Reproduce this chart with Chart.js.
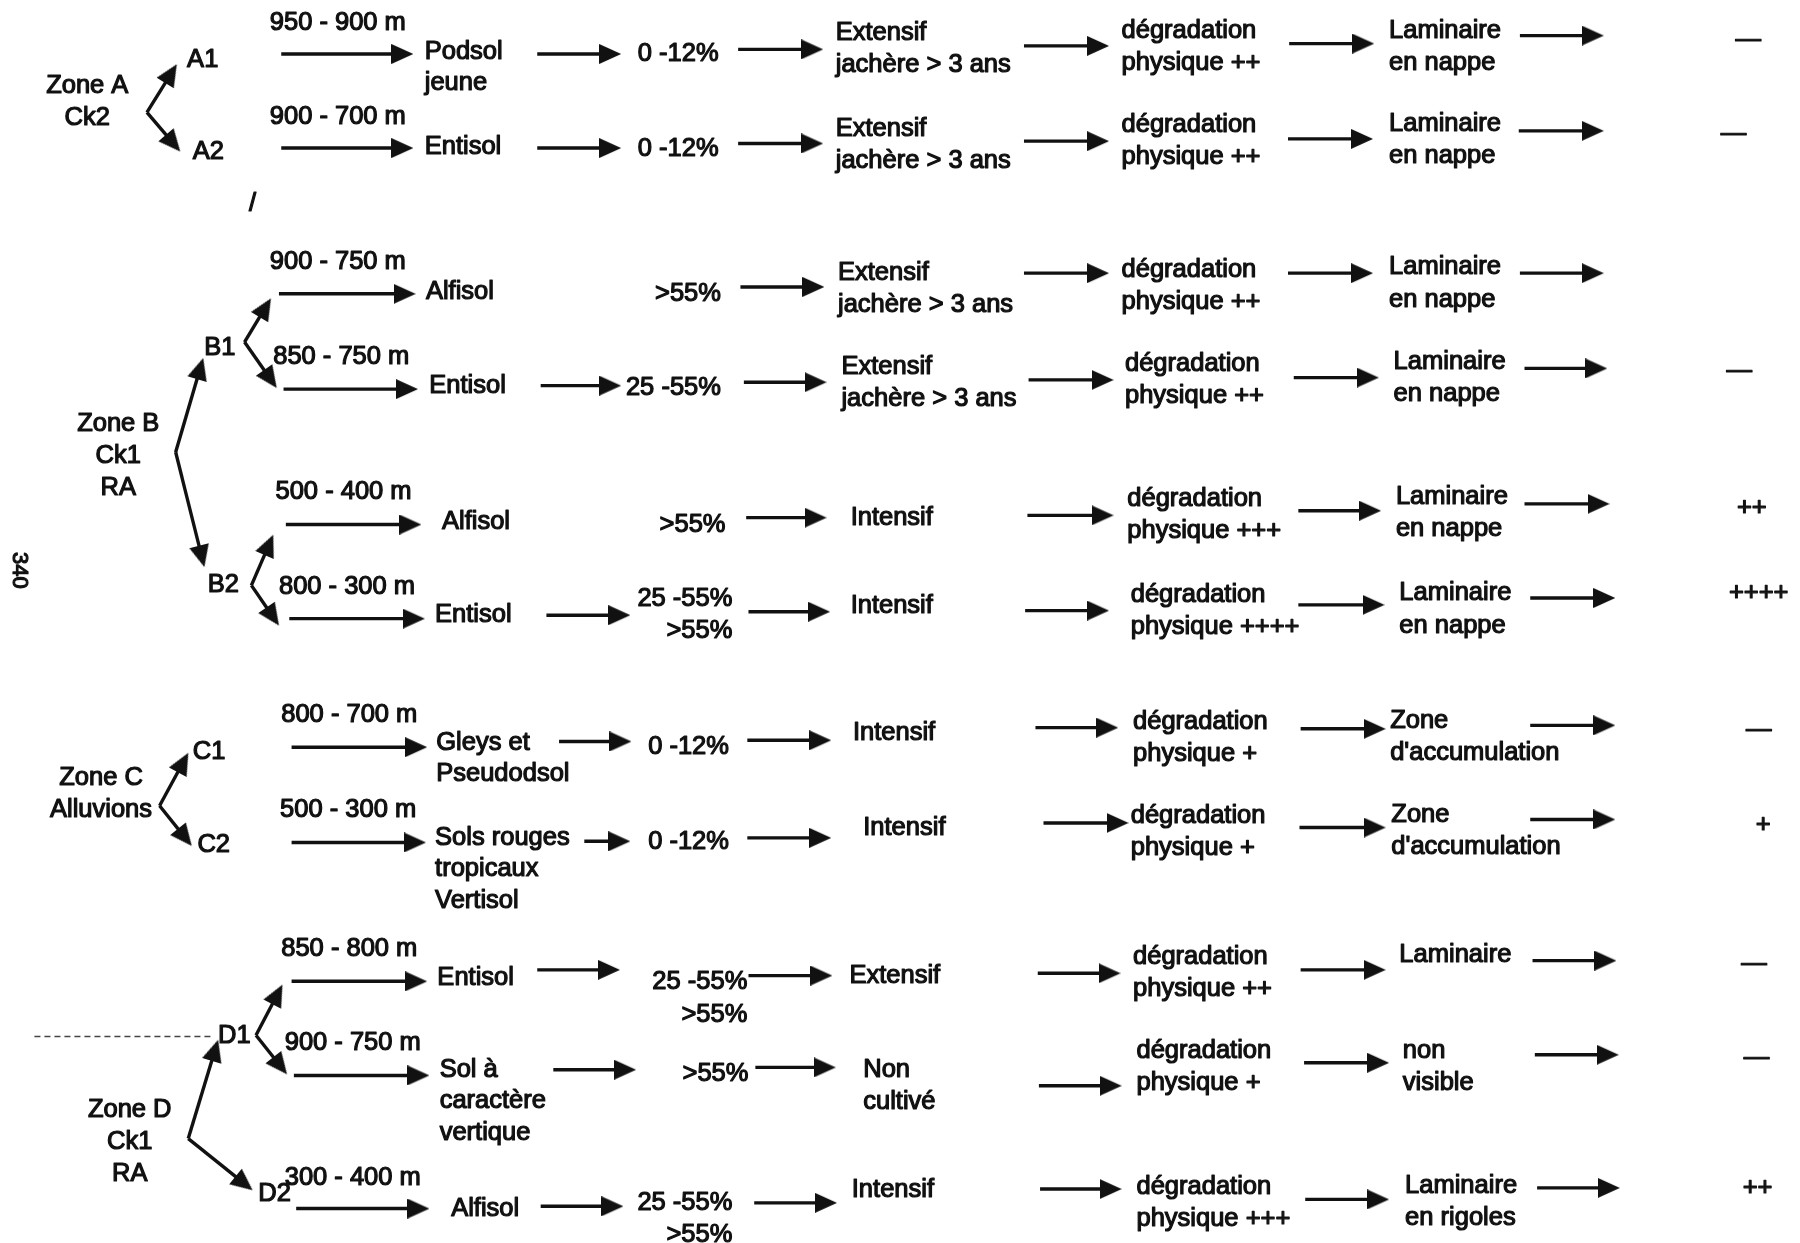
<!DOCTYPE html>
<html lang="fr">
<head>
<meta charset="utf-8">
<title>Zones, sols, pentes et érosion</title>
<script src="https://cdn.jsdelivr.net/npm/chart.js@4.4.1/dist/chart.umd.min.js"></script>
<style>
  html, body { margin: 0; padding: 0; background: #fff; }
  #wrap { width: 1800px; height: 1243px; position: relative; }
</style>
</head>
<body>
<div id="wrap"><canvas id="schema"></canvas></div>
<script>
// ---- contenu du schéma : une entrée par ligne (11 lignes) ----
const zones = [['Zone A', 'Ck2'], ['Zone B', 'Ck1', 'RA'], ['Zone C', 'Alluvions'], ['Zone D', 'Ck1', 'RA']];
const unitNames = ['A1', 'A2', 'B1', 'B2', 'C1', 'C2', 'D1', 'D2'];
const altitudes = ['950 - 900 m', '900 - 700 m', '900 - 750 m', '850 - 750 m', '500 - 400 m', '800 - 300 m',
                   '800 - 700 m', '500 - 300 m', '850 - 800 m', '900 - 750 m', '300 - 400 m'];
const soils = [['Podsol', 'jeune'], ['Entisol'], ['Alfisol'], ['Entisol'], ['Alfisol'], ['Entisol'],
               ['Gleys et', 'Pseudodsol'], ['Sols rouges', 'tropicaux', 'Vertisol'], ['Entisol'],
               ['Sol à', 'caractère', 'vertique'], ['Alfisol']];
const slopes = [['0 -12%'], ['0 -12%'], ['>55%'], ['25 -55%'], ['>55%'], ['25 -55%', '>55%'],
                ['0 -12%'], ['0 -12%'], ['25 -55%', '>55%'], ['>55%'], ['25 -55%', '>55%']];
const usages = [['Extensif', 'jachère > 3 ans'], ['Extensif', 'jachère > 3 ans'], ['Extensif', 'jachère > 3 ans'],
                ['Extensif', 'jachère > 3 ans'], ['Intensif'], ['Intensif'], ['Intensif'], ['Intensif'],
                ['Extensif'], ['Non', 'cultivé'], ['Intensif']];
const degradation = ['++', '++', '++', '++', '+++', '++++', '+', '+', '++', '+', '+++'];
const erosions = [['Laminaire', 'en nappe'], ['Laminaire', 'en nappe'], ['Laminaire', 'en nappe'],
                  ['Laminaire', 'en nappe'], ['Laminaire', 'en nappe'], ['Laminaire', 'en nappe'],
                  ['Zone', "d'accumulation"], ['Zone', "d'accumulation"], ['Laminaire'],
                  ['non', 'visible'], ['Laminaire', 'en rigoles']];
const risks = ['—', '—', '', '—', '++', '++++', '—', '+', '—', '—', '++'];

// ---- mise en page (unités du repère : 1568 x 1083) ----
const zoneXY = [[76, 75], [103, 369], [88, 678], [113, 967]];
const unitXY = [[163, 52], [168, 132], [178, 303], [181, 510], [168, 655], [172, 736], [190, 903], [225, 1040]];
const altX = [235, 235, 235, 238, 240, 243, 245, 244, 245, 248, 248];
const altY = [20, 102, 228, 311, 429, 511, 623, 706, 827, 909, 1026];
const soilX = [370, 370, 371, 374, 385, 379, 380, 379, 381, 383, 393];
const soilY = [45, 128, 254, 336, 455, 536, 647, 730, 852, 932, 1053];
const slopeRight = [626, 626, 628, 628, 632, 638, 635, 635, 651, 652, 638];
const slopeY = [47, 130, 256, 338, 457, 522, 651, 734, 856, 936, 1048];
const usageX = [728, 728, 730, 733, 741, 741, 743, 752, 740, 752, 742];
const usageY = [29, 112, 238, 320, 451, 528, 639, 721, 850, 932, 1037];
const degX = [977, 977, 977, 980, 982, 985, 987, 985, 987, 990, 990];
const degY = [27, 109, 235, 317, 435, 518, 629, 711, 834, 916, 1034];
const eroX = [1210, 1210, 1210, 1214, 1216, 1219, 1211, 1212, 1219, 1222, 1224];
const eroY = [27, 108, 233, 315, 433, 517, 628, 710, 832, 916, 1033];
const riskX = [1523, 1510, 0, 1515, 1526, 1532, 1532, 1536, 1528, 1530, 1531];
const riskY = [35, 117, 0, 323, 443, 517, 636, 719, 840, 922, 1035];

// flèches horizontales [x départ, x pointe, y]
const arrowRows = [
  [[245, 360, 47], [468, 541, 47], [643, 717, 43], [892, 966, 40], [1123, 1197, 38], [1324, 1397, 31]],
  [[245, 360, 129], [468, 541, 129], [643, 717, 125], [892, 966, 123], [1122, 1196, 121], [1323, 1397, 114]],
  [[243, 362, 256], null, [645, 718, 250], [892, 966, 238], [1122, 1196, 238], [1324, 1397, 238]],
  [[247, 364, 339], [471, 541, 336], [648, 720, 333], [896, 970, 331], [1127, 1201, 329], [1328, 1400, 321]],
  [[249, 367, 457], null, [650, 720, 451], [895, 970, 449], [1131, 1203, 445], [1328, 1402, 439]],
  [[252, 370, 539], [476, 549, 536], [652, 723, 533], [893, 966, 532], [1131, 1206, 527], [1333, 1407, 521]],
  [[254, 372, 651], [487, 550, 646], [651, 724, 645], [902, 974, 634], [1133, 1207, 635], [1333, 1407, 632]],
  [[254, 371, 734], [509, 549, 733], [651, 724, 730], [909, 983, 717], [1132, 1207, 721], [1333, 1407, 714]],
  [[254, 372, 855], [468, 540, 845], [652, 725, 850], [904, 976, 848], [1133, 1207, 845], [1335, 1408, 837]],
  [[256, 374, 937], [482, 554, 932], [658, 728, 930], [905, 977, 946], [1136, 1210, 926], [1337, 1410, 919]],
  [[258, 374, 1053], [471, 543, 1051], [657, 729, 1048], [906, 977, 1036], [1137, 1210, 1045], [1339, 1411, 1035]]
];
// branches des accolades [x sommet, y sommet, x pointe, y pointe]
const branches = [
  [128, 98, 154, 56], [128, 98, 157, 132],
  [153, 394, 177, 312], [153, 394, 178, 494],
  [213, 298, 236, 260], [213, 298, 241, 338],
  [219, 510, 238, 466], [219, 510, 243, 545],
  [139, 702, 164, 656], [139, 702, 167, 737],
  [164, 992, 190, 906], [164, 992, 220, 1037],
  [223, 902, 246, 858], [223, 902, 250, 936]
];

const LINE = 28;
const FONT = "25.5px 'Liberation Sans', Arial, sans-serif";
const HEAD_BACK = 9.5;

// pointe de flèche (image utilisée comme pointStyle)
const head = document.createElement('canvas');
head.width = 22; head.height = 20;
(function () {
  const c = head.getContext('2d');
  c.fillStyle = '#111';
  c.beginPath(); c.moveTo(0, 0); c.lineTo(22, 10); c.lineTo(0, 20); c.closePath(); c.fill();
})();

function arrowDataset(x1, y1, x2, y2) {
  const a = Math.atan2(y2 - y1, x2 - x1);
  return {
    data: [{ x: x1, y: y1 }, { x: x2 - Math.cos(a) * HEAD_BACK, y: y2 - Math.sin(a) * HEAD_BACK }],
    showLine: true,
    borderColor: '#111',
    borderWidth: 3.4,
    pointRadius: [0, 9],
    pointStyle: ['circle', head],
    pointRotation: [0, a * 180 / Math.PI],
    clip: false
  };
}

const datasets = [];
arrowRows.forEach(row => row.forEach(s => { if (s) datasets.push(arrowDataset(s[0], s[2], s[1], s[2])); }));
branches.forEach(b => datasets.push(arrowDataset(b[0], b[1], b[2], b[3])));
// trait pointillé devant D1
datasets.push({
  data: [{ x: 30, y: 903 }, { x: 186, y: 903 }],
  showLine: true, borderColor: '#444', borderWidth: 1.5, borderDash: [6, 4], pointRadius: 0
});

function textItems() {
  const items = [];
  const add = (lines, x, y, align, step) =>
    lines.forEach((t, i) => items.push({ t, x, y: y + i * step, align }));
  zones.forEach((z, i) => add(z, zoneXY[i][0], zoneXY[i][1], 'center', LINE));
  unitNames.forEach((u, i) => add([u], unitXY[i][0], unitXY[i][1], 'left', LINE));
  altitudes.forEach((t, i) => add([t], altX[i], altY[i], 'left', LINE));
  soils.forEach((s, i) => add(s, soilX[i], soilY[i], 'left', 27.5));
  slopes.forEach((s, i) => add(s, slopeRight[i], slopeY[i], 'right', LINE));
  usages.forEach((u, i) => add(u, usageX[i], usageY[i], 'left', LINE));
  degradation.forEach((d, i) => add(['dégradation', 'physique ' + d], degX[i], degY[i], 'left', LINE));
  erosions.forEach((e, i) => add(e, eroX[i], eroY[i], 'left', LINE));
  risks.forEach((r, i) => { if (r) add([r], riskX[i], riskY[i], 'center', LINE); });
  add(['/'], 220, 178, 'center', LINE);
  return items;
}

const textPlugin = {
  id: 'schemaText',
  afterDatasetsDraw(chart) {
    const { ctx, scales: { x, y } } = chart;
    ctx.save();
    ctx.fillStyle = '#111';
    ctx.strokeStyle = '#111';
    ctx.lineWidth = 1.2;
    ctx.lineJoin = 'round';
    ctx.font = FONT;
    ctx.textBaseline = 'middle';
    textItems().forEach(it => {
      ctx.textAlign = it.align;
      const px = x.getPixelForValue(it.x), py = y.getPixelForValue(it.y);
      ctx.fillText(it.t, px, py);
      ctx.strokeText(it.t, px, py);
    });
    // numéro de page, vertical
    ctx.translate(x.getPixelForValue(17), y.getPixelForValue(497));
    ctx.rotate(Math.PI / 2);
    ctx.textAlign = 'center';
    ctx.font = "22px 'Liberation Sans', Arial, sans-serif";
    ctx.fillText('340', 0, 0);
    ctx.strokeText('340', 0, 0);
    ctx.restore();
  }
};

new Chart(document.getElementById('schema'), {
  type: 'scatter',
  data: { datasets },
  options: {
    responsive: true,
    maintainAspectRatio: false,
    animation: false,
    events: [],
    layout: { padding: 0, autoPadding: false },
    elements: { line: { tension: 0 } },
    scales: {
      x: { type: 'linear', min: 0, max: 1568, display: false },
      y: { type: 'linear', min: 0, max: 1083, reverse: true, display: false }
    },
    plugins: { legend: { display: false }, tooltip: { enabled: false } }
  },
  plugins: [textPlugin]
});
</script>
</body>
</html>
